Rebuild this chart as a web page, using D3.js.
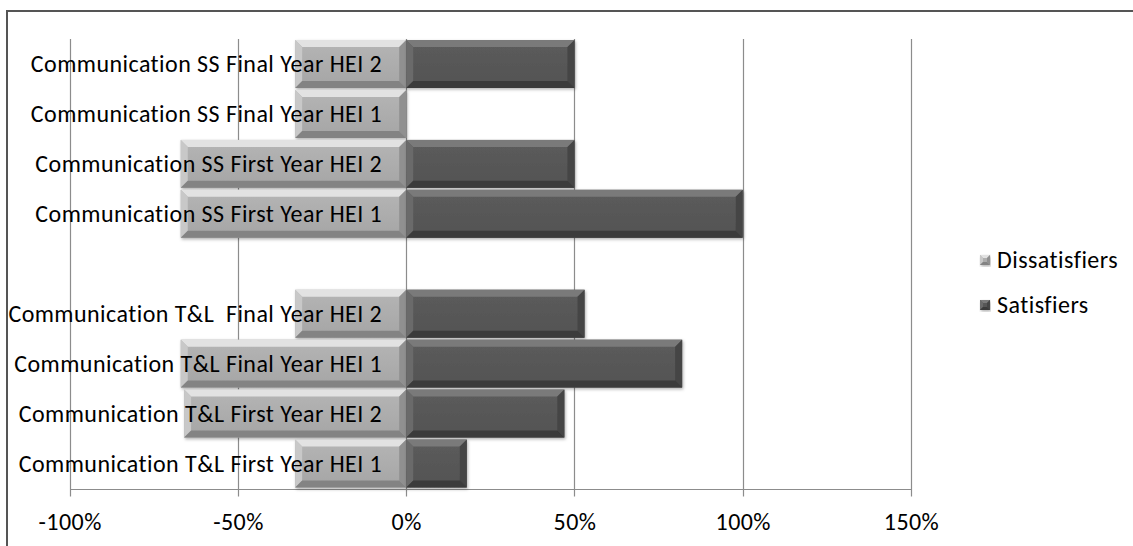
<!DOCTYPE html>
<html>
<head>
<meta charset="utf-8">
<script src="https://cdn.jsdelivr.net/npm/d3@7"></script>
<style>
  html, body { margin: 0; padding: 0; background: #fff; }
  svg { display: block; }
  text { font-family: Carlito, Lato, "Open Sans", sans-serif; fill: #000; }
</style>
</head>
<body>
<svg id="chart" width="1133" height="546"></svg>
<script>
// Categories, top to bottom ("" is the blank spacer row between groups)
const categories = [
  "Communication SS Final Year HEI 2",
  "Communication SS Final Year HEI 1",
  "Communication SS First Year HEI 2",
  "Communication SS First Year HEI 1",
  "",
  "Communication T&L  Final Year HEI 2",
  "Communication T&L Final Year HEI 1",
  "Communication T&L First Year HEI 2",
  "Communication T&L First Year HEI 1"
];
const dissatisfiers = [-0.33, -0.33, -0.67, -0.67, null, -0.33, -0.67, -0.66, -0.33];
const satisfiers    = [0.50, 0, 0.50, 1.00, null, 0.53, 0.82, 0.47, 0.18];
const seriesNames = ["Dissatisfiers", "Satisfiers"];
const tickValues = [-1, -0.5, 0, 0.5, 1, 1.5];

const svg = d3.select("#chart");
const W = 1133, H = 546;
const plot = { left: 69.7, right: 911, top: 39, bottom: 488.5 };
const FONT = 24, SPACING = 0.45;

const x = d3.scaleLinear().domain([-1, 1.5]).range([plot.left, plot.right]);
const y = d3.scaleBand().domain(categories.map((c, i) => i)).range([plot.top, plot.bottom]).paddingInner(0.04).paddingOuter(0.02);

const palette = {
  Dissatisfiers: { face: "#acacac", top: "#e2e2e2", left: "#c8c8c8", right: "#909090", bottom: "#838383" },
  Satisfiers:    { face: "#575757", top: "#7a7a7a", left: "#6a6a6a", right: "#444444", bottom: "#3a3a3a" }
};

// Gradient for the bar faces
const defs = svg.append("defs");
seriesNames.forEach(name => {
  const p = palette[name];
  const g = defs.append("linearGradient").attr("id", "face-" + name).attr("x1", 0).attr("y1", 0).attr("x2", 0).attr("y2", 1);
  g.append("stop").attr("offset", "0%").attr("stop-color", d3.color(p.face).brighter(0.15));
  g.append("stop").attr("offset", "100%").attr("stop-color", d3.color(p.face).darker(0.12));
});
const shadow = defs.append("filter").attr("id", "shadow").attr("x", "-5%").attr("y", "-10%").attr("width", "115%").attr("height", "130%");
shadow.append("feDropShadow").attr("dx", 1).attr("dy", 1.5).attr("stdDeviation", 1.5).attr("flood-color", "#000").attr("flood-opacity", 0.3);

// Outer frame (top and left edges)
svg.append("line").attr("x1", 7).attr("x2", W).attr("y1", 11).attr("y2", 11).attr("stroke", "#555").attr("stroke-width", 2);
svg.append("line").attr("x1", 7).attr("x2", 7).attr("y1", 10).attr("y2", H).attr("stroke", "#555").attr("stroke-width", 2);

// Vertical gridlines
svg.append("g").selectAll("line").data(tickValues).join("line")
  .attr("x1", d => Math.round(x(d)) + 0.5).attr("x2", d => Math.round(x(d)) + 0.5)
  .attr("y1", plot.top).attr("y2", plot.bottom + 8)
  .attr("stroke", "#8c8c8c").attr("stroke-width", 1.2);

// Bottom axis line and tick labels
const xAxis = d3.axisBottom(x).tickValues(tickValues).tickSize(0).tickPadding(24)
  .tickFormat(d => d3.format(".0%")(d).replace("\u2212", "-"));
const axisG = svg.append("g").attr("transform", `translate(0,${plot.bottom + 0.5})`).call(xAxis);
axisG.select(".domain").attr("stroke", "#8c8c8c").attr("stroke-width", 1.2);
axisG.selectAll("text").attr("font-size", FONT).attr("letter-spacing", SPACING)
  .attr("font-family", "Carlito, Lato, sans-serif").attr("fill", "#000");

// Bevelled bar drawn as a face plus four edge trapezoids
function bevelBar(g, x0, y0, w, h, p, fillId, size) {
  if (w <= 0) return;
  const b = Math.min(size, w / 2, h / 2);
  const bar = g.append("g").attr("filter", "url(#shadow)");
  bar.append("rect").attr("x", x0).attr("y", y0).attr("width", w).attr("height", h).attr("fill", `url(#${fillId})`);
  const x1 = x0 + w, y1 = y0 + h;
  const poly = (pts, c) => bar.append("polygon").attr("points", pts.map(q => q.join(",")).join(" ")).attr("fill", c);
  poly([[x0, y0], [x1, y0], [x1 - b, y0 + b], [x0 + b, y0 + b]], p.top);
  poly([[x0, y0], [x0 + b, y0 + b], [x0 + b, y1 - b], [x0, y1]], p.left);
  poly([[x1, y0], [x1, y1], [x1 - b, y1 - b], [x1 - b, y0 + b]], p.right);
  poly([[x0, y1], [x0 + b, y1 - b], [x1 - b, y1 - b], [x1, y1]], p.bottom);
}

const barsG = svg.append("g");
categories.forEach((c, i) => {
  const yy = y(i), hh = y.bandwidth();
  const d = dissatisfiers[i], s = satisfiers[i];
  if (d != null) bevelBar(barsG, x(d), yy, x(0) - x(d), hh, palette.Dissatisfiers, "face-Dissatisfiers", 7);
  if (s != null) bevelBar(barsG, x(0), yy, x(s) - x(0), hh, palette.Satisfiers, "face-Satisfiers", 7);
});

// Category labels, right-aligned left of the zero line
svg.append("g").selectAll("text").data(categories).join("text")
  .attr("x", x(0) - 24).attr("y", (d, i) => y(i) + y.bandwidth() / 2)
  .attr("dy", "0.35em").attr("text-anchor", "end").attr("font-size", FONT)
  .attr("letter-spacing", SPACING)
  .attr("xml:space", "preserve").style("white-space", "pre")
  .text(d => d);

// Legend
const legend = svg.append("g");
seriesNames.forEach((name, i) => {
  const ly = 260 + i * 45;
  bevelBar(legend, 980, ly - 5, 10, 10, palette[name], "face-" + name, 3);
  legend.append("text").attr("x", 997).attr("y", ly).attr("dy", "0.35em")
    .attr("font-size", FONT).attr("letter-spacing", SPACING).text(name);
});
</script>
</body>
</html>
